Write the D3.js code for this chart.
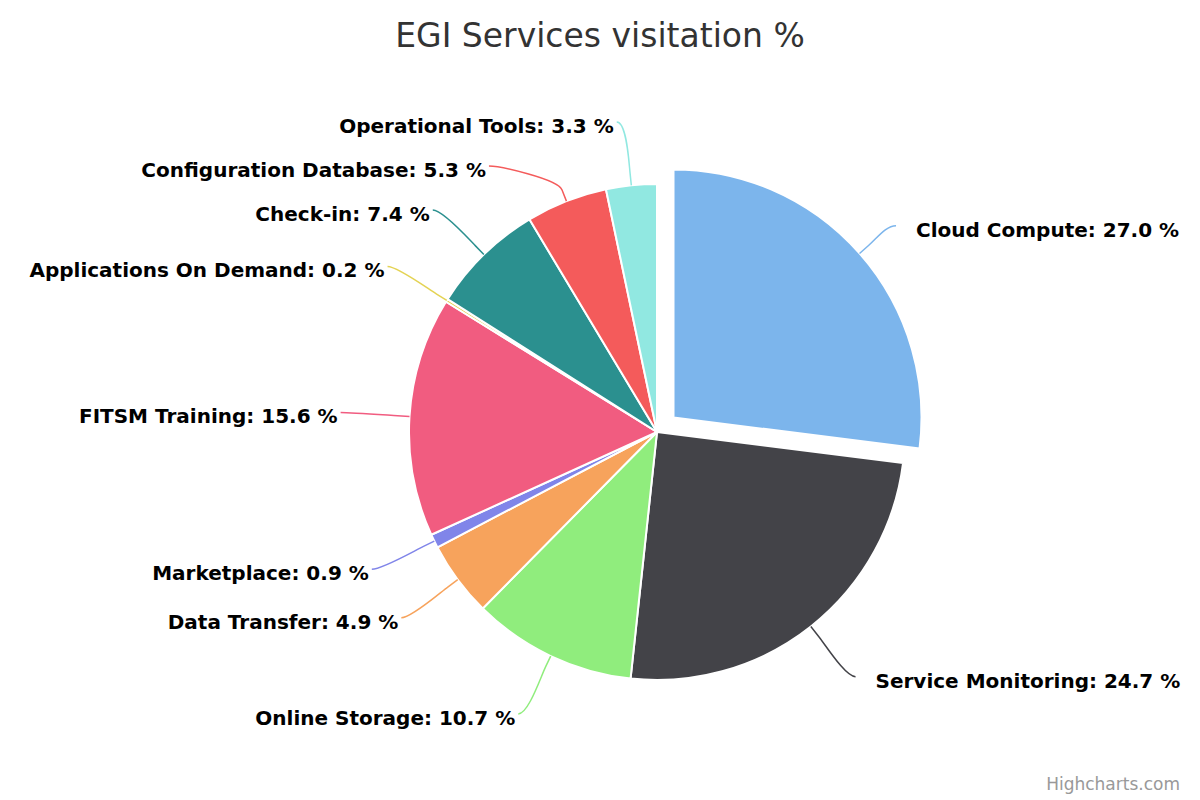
<!DOCTYPE html>
<html>
<head>
<meta charset="utf-8">
<script src="https://cdn.jsdelivr.net/npm/d3@7"></script>
<style>
  body { margin: 0; background: #fff; }
  svg { display: block; font-family: "DejaVu Sans", Verdana, sans-serif; }
</style>
</head>
<body>
<svg id="chart" width="1200" height="800"></svg>
<script>
// Slices in drawing order (clockwise from the top)
const names = [
  "Cloud Compute", "Service Monitoring", "Online Storage", "Data Transfer",
  "Marketplace", "FITSM Training", "Applications On Demand", "Check-in",
  "Configuration Database", "Operational Tools"
];
const values = [27.0, 24.7, 10.7, 4.9, 0.9, 15.6, 0.2, 7.4, 5.3, 3.3];
const colors = [
  "#7cb5ec", "#434348", "#90ed7d", "#f7a35c", "#8085e9",
  "#f15c80", "#e4d354", "#2b908f", "#f45b5b", "#91e8e1"
];
const slicedNames = ["Cloud Compute"];

const width = 1200, height = 800;
const cx = 657, cy = 432, radius = 248;
const labelR = 312;        // radius where labels sit
const slicedOffset = 22;
const labelH = 44;         // vertical room for one label
const labelTop = 100, labelBottom = 780;

const svg = d3.select("#chart");

// Title
svg.append("text")
    .attr("x", width / 2)
    .attr("y", 47)
    .attr("text-anchor", "middle")
    .attr("fill", "#333333")
    .style("font-size", "33px")
    .text("EGI Services visitation %");

const pie = d3.pie().sort(null).value(d => d.value);
const arcs = pie(names.map((n, i) => ({ name: n, value: values[i], color: colors[i] })));

const arc = d3.arc().innerRadius(0).outerRadius(radius);

// Geometry per slice
arcs.forEach(a => {
  a.mid = (a.startAngle + a.endAngle) / 2;
  a.sliced = slicedNames.includes(a.data.name);
  a.tx = a.sliced ? Math.sin(a.mid) * slicedOffset : 0;
  a.ty = a.sliced ? -Math.cos(a.mid) * slicedOffset : 0;
  a.left = a.mid > Math.PI;
  a.natural = cy - Math.cos(a.mid) * labelR;
});

// Spread labels vertically on each side so they don't overlap
function distribute(list) {
  list.sort((a, b) => a.natural - b.natural);
  let prev = -Infinity;
  list.forEach(a => {
    a.ly = Math.max(a.natural, prev + labelH, labelTop + labelH / 2);
    prev = a.ly;
  });
  let next = Infinity;
  for (let i = list.length - 1; i >= 0; i--) {
    const a = list[i];
    a.ly = Math.min(a.ly, next - labelH, labelBottom - labelH / 2);
    next = a.ly;
  }
}
distribute(arcs.filter(a => a.left));
distribute(arcs.filter(a => !a.left));

arcs.forEach(a => {
  const dy = a.ly - cy;
  const dx = Math.sqrt(Math.max(0, labelR * labelR - dy * dy)) + 5;
  a.lx = a.left ? cx - dx : cx + dx;
});

const g = svg.append("g").attr("transform", `translate(${cx},${cy})`);

g.selectAll("path.slice")
  .data(arcs)
  .join("path")
    .attr("class", "slice")
    .attr("d", arc)
    .attr("transform", d => `translate(${d.tx},${d.ty})`)
    .attr("fill", d => d.data.color)
    .attr("stroke", "#ffffff")
    .attr("stroke-width", 2)
    .attr("stroke-linejoin", "round");

// Connectors (soft curve, like Highcharts fixedOffset)
function connector(a) {
  const touch = [cx + Math.sin(a.mid) * radius + a.tx, cy - Math.cos(a.mid) * radius + a.ty];
  const brk = [cx + Math.sin(a.mid) * (radius + 12) + a.tx, cy - Math.cos(a.mid) * (radius + 12) + a.ty];
  const p = d3.path();
  p.moveTo(a.lx, a.ly);
  p.bezierCurveTo(a.lx + (a.left ? 10 : -10), a.ly,
    2 * brk[0] - touch[0], 2 * brk[1] - touch[1], brk[0], brk[1]);
  p.lineTo(touch[0], touch[1]);
  return p.toString();
}

svg.append("g")
  .selectAll("path")
  .data(arcs)
  .join("path")
    .attr("d", connector)
    .attr("fill", "none")
    .attr("stroke", d => d.data.color)
    .attr("stroke-width", 1.5);

svg.append("g")
  .selectAll("text")
  .data(arcs)
  .join("text")
    .attr("x", d => d.left ? d.lx - 3 : d.lx + 20)
    .attr("y", d => d.ly + 11)
    .attr("text-anchor", d => d.left ? "end" : "start")
    .attr("fill", "#000000")
    .style("font-size", "20px")
    .style("font-weight", "bold")
    .text(d => `${d.data.name}: ${d.data.value.toFixed(1)} %`);

// Credits
svg.append("text")
    .attr("x", 1180)
    .attr("y", 790)
    .attr("text-anchor", "end")
    .attr("fill", "#999999")
    .style("font-size", "17px")
    .text("Highcharts.com");
</script>
</body>
</html>
